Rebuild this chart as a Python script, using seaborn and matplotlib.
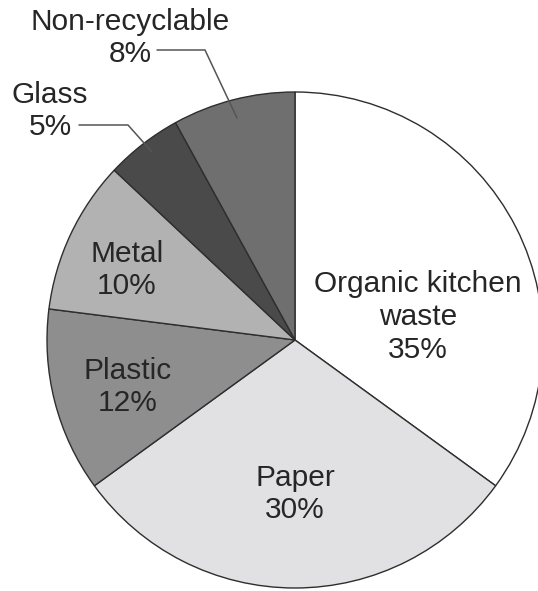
import matplotlib
matplotlib.use("Agg")
import matplotlib.pyplot as plt
import seaborn as sns

# data ------------------------------------------------------------------
categories = ["Organic kitchen\nwaste", "Paper", "Plastic", "Metal", "Glass", "Non-recyclable"]
shares = [35, 30, 12, 10, 5, 8]
slice_colors = ["#ffffff", "#e1e1e3", "#8e8e8e", "#b2b2b2", "#4a4a4a", "#6f6f6f"]

sns.set_style("white")
plt.rcParams["font.family"] = ["Liberation Sans", "DejaVu Sans"]

fig = plt.figure(figsize=(5.38, 5.91), dpi=100)
ax = fig.add_axes([0, 0, 1, 1])

# pie, clockwise from 12 o'clock
wedges, _ = ax.pie(shares, colors=slice_colors, startangle=90, counterclock=False,
                   center=(295, 251), radius=248, frame=True,
                   wedgeprops=dict(edgecolor="#2e2e2e", linewidth=1.0))
ax.set_xlim(0, 538)
ax.set_ylim(0, 591)
ax.axis("off")

txt = dict(fontsize=21.5, color="#262626", ha="center", va="center", linespacing=1.22)

# labels inside slices (x, y in pixel-like axis units)
inside_pos = {0: (418, 274), 1: (295, 97), 2: (128, 204), 3: (127, 321)}
for i, (x, y) in inside_pos.items():
    ax.text(x, y, f"{categories[i]}\n{shares[i]}%", **txt)

# outside labels with leader lines
ax.text(130, 553, f"{categories[5]}\n{shares[5]}%", **txt)
ax.plot([157, 205, 237], [541, 541, 473], color="#555555", lw=1.1)

ax.text(50, 480, f"{categories[4]}\n{shares[4]}%", **txt)
ax.plot([79, 128, 152], [466, 466, 439], color="#555555", lw=1.1)

fig.savefig("out.png", dpi=100)
